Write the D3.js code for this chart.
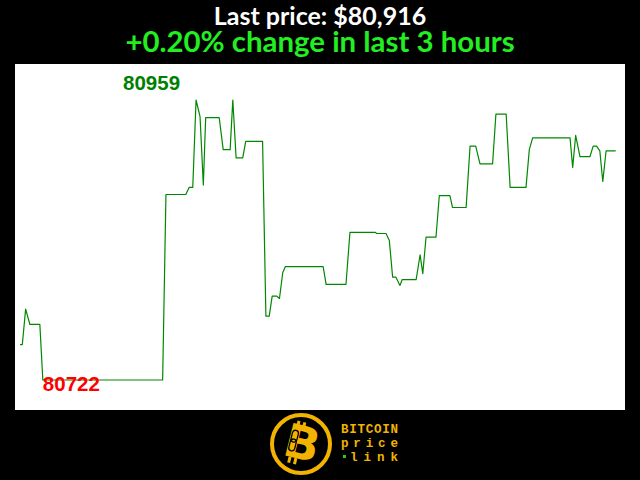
<!DOCTYPE html>
<html>
<head>
<meta charset="utf-8">
<script src="https://cdn.jsdelivr.net/npm/d3@7"></script>
<style>
  html, body { margin: 0; padding: 0; background: #000; }
  svg { display: block; }
</style>
</head>
<body>
<svg id="chart" width="640" height="480"></svg>
<script>
// Minutes since start of the 3-hour window (vertices of the price trace)
const minutes = [0, 0.7, 1.7, 3.0, 6.0, 6.9, 43.1, 44.1, 50.1, 51.1, 52.2, 53.2, 54.4, 55.4, 56.1,
  60.2, 61.4, 63.5, 64.3, 65.3, 67.3, 68.2, 73.3, 74.3, 75.3, 76.2, 77.6, 78.4, 79.4, 80.2,
  91.6, 92.5, 98.5, 99.7, 107.3, 107.8, 110.6, 111.6, 112.6, 113.6, 114.8, 115.5, 119.7, 120.9,
  121.7, 122.7, 125.7, 126.7, 129.9, 130.7, 134.8, 136.0, 137.7, 139.0, 142.8, 143.8, 146.9,
  148.1, 152.9, 153.9, 154.9, 166.2, 167.0, 167.9, 169.2, 172.2, 173.2, 174.2, 175.2, 176.1,
  177.1, 180];
// BTC price (USD) at those vertices
const prices = [80752, 80752, 80782, 80769, 80769, 80722, 80722, 80879, 80879, 80885, 80885, 80959, 80945, 80887, 80944,
  80944, 80917, 80917, 80959, 80910, 80910, 80924, 80924, 80776, 80776, 80793, 80793, 80791, 80813, 80818,
  80818, 80803, 80803, 80847, 80847, 80846, 80846, 80840, 80809, 80809, 80802, 80807, 80807, 80828,
  80812, 80843, 80843, 80878, 80878, 80868, 80868, 80920, 80920, 80905, 80905, 80947, 80947,
  80885, 80885, 80917, 80927, 80927, 80902, 80929, 80911, 80911, 80920, 80920, 80916, 80890,
  80916, 80916];
const windowHours = 3;

const svg = d3.select("#chart");
const W = 640, H = 480;

svg.append("rect").attr("width", W).attr("height", H).attr("fill", "#000");

const data = minutes.map((m, i) => ({ t: m, p: prices[i] }));
const pMin = d3.min(prices), pMax = d3.max(prices);
const last = prices[prices.length - 1], first = prices[0];
const pct = (last - first) / first * 100;

// Header
svg.append("text")
  .attr("x", 320).attr("y", 25)
  .attr("text-anchor", "middle")
  .attr("font-family", "Lato, 'Open Sans', sans-serif")
  .attr("font-weight", "bold")
  .attr("font-size", 25)
  .attr("fill", "#fff")
  .text("Last price: $" + d3.format(",")(last));

svg.append("text")
  .attr("x", 320).attr("y", 52)
  .attr("text-anchor", "middle")
  .attr("font-family", "Lato, 'Open Sans', sans-serif")
  .attr("font-weight", "bold")
  .attr("font-size", 29.4)
  .attr("fill", "#22ee22")
  .text(d3.format("+.2f")(pct) + "% change in last " + windowHours + " hours");

// Plot panel
const panel = { x: 15, y: 64, w: 610, h: 346 };
svg.append("rect")
  .attr("x", panel.x).attr("y", panel.y)
  .attr("width", panel.w).attr("height", panel.h)
  .attr("fill", "#fff");

const x = d3.scaleLinear().domain([0, windowHours * 60]).range([20, 615.7]);
const y = d3.scaleLinear().domain([pMin, pMax]).range([380, 100]);

svg.append("path")
  .datum(data)
  .attr("fill", "none")
  .attr("stroke", "#008800")
  .attr("stroke-width", 1.2)
  .attr("stroke-linejoin", "round")
  .attr("d", d3.line().x(d => x(d.t)).y(d => y(d.p)));

const maxPt = data.find(d => d.p === pMax);
const minPt = data.find(d => d.p === pMin);

svg.append("text")
  .attr("x", x(maxPt.t) - 73).attr("y", y(maxPt.p) - 10)
  .attr("font-family", "'Liberation Sans', Arial, sans-serif")
  .attr("font-weight", "bold")
  .attr("font-size", 20.5)
  .attr("fill", "#008000")
  .text(pMax);

svg.append("text")
  .attr("x", x(minPt.t)).attr("y", y(minPt.p) + 11)
  .attr("font-family", "'Liberation Sans', Arial, sans-serif")
  .attr("font-weight", "bold")
  .attr("font-size", 20.5)
  .attr("fill", "#ff0000")
  .text(pMin);

// Logo
const gold = "#f2b400";
const logo = svg.append("g").attr("transform", "translate(301,444)");
logo.append("circle").attr("r", 29).attr("fill", "none").attr("stroke", gold).attr("stroke-width", 4);
const bg = logo.append("g").attr("transform", "rotate(14)");
bg.append("text")
  .attr("x", 1).attr("y", 15)
  .attr("text-anchor", "middle")
  .attr("font-family", "'DejaVu Sans', sans-serif")
  .attr("font-weight", "bold")
  .attr("font-size", 46)
  .attr("fill", gold)
  .text("B");
[-9, -3].forEach(dx => {
  bg.append("rect").attr("x", dx).attr("y", -22).attr("width", 3).attr("height", 6).attr("fill", gold);
  bg.append("rect").attr("x", dx).attr("y", 15).attr("width", 3).attr("height", 6).attr("fill", gold);
});
bg.append("rect").attr("x", -11).attr("y", -12).attr("width", 6).attr("height", 12).attr("rx", 3)
  .attr("fill", "none").attr("stroke", "#000").attr("stroke-width", 1.3);
bg.append("rect").attr("x", -11).attr("y", -3).attr("width", 6).attr("height", 12).attr("rx", 3)
  .attr("fill", "none").attr("stroke", "#000").attr("stroke-width", 1.3);

const words = ["BITCOIN", "price", "link"];
const wordY = [433, 447, 461];
words.forEach((w, i) => {
  svg.append("text")
    .attr("x", i === 2 ? 350 : 341).attr("y", wordY[i])
    .attr("font-family", "'Liberation Mono', 'DejaVu Sans Mono', monospace")
    .attr("font-weight", "bold")
    .attr("font-size", 12.5)
    .attr("fill", gold)
    .attr("textLength", i === 2 ? 48 : 57)
    .attr("lengthAdjust", "spacing")
    .text(w);
});
svg.append("rect").attr("x", 343).attr("y", 455).attr("width", 3).attr("height", 3).attr("fill", "#22cc22");
</script>
</body>
</html>
